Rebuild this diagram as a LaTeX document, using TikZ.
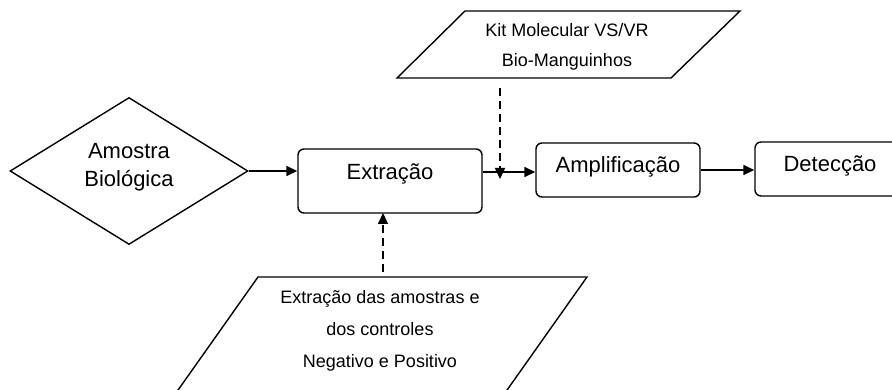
\documentclass[tikz,border=0pt]{standalone}
\usepackage{fontspec}
\setmainfont{Liberation Sans}
\usetikzlibrary{arrows.meta,shapes.geometric}
\begin{document}
\begin{tikzpicture}[x=1pt,y=-1pt,
  shapeline/.style={draw=black,line width=1.4pt},
  procbox/.style={shapeline,rounded corners=6pt,inner sep=0pt},
  bigtxt/.style={font=\fontsize{22}{28}\selectfont,inner sep=0pt,anchor=base,align=center},
  smalltxt/.style={font=\fontsize{18}{30}\selectfont,inner sep=0pt,anchor=base,align=center},
  flow/.style={line width=1.5pt,-{Triangle[length=11pt,width=10pt]}},
  dflow/.style={flow,dash pattern=on 8pt off 5pt}]
\useasboundingbox (0,0) rectangle (892,390);
\clip (0,0) rectangle (892,390);
% diamond
\node[shapeline,diamond,minimum width=238pt,minimum height=147pt,inner sep=0pt] (dia) at (129,171) {};
\node[bigtxt] (diatxt) at (129,187) {Amostra\\Biológica};
% process boxes
\node[procbox,minimum width=184pt,minimum height=64pt] (ext) at (390,181) {};
\node[bigtxt] (exttxt) at (390,180) {Extração};
\node[procbox,minimum width=164pt,minimum height=54pt] (amp) at (618,170) {};
\node[bigtxt] (amptxt) at (618,173) {Amplificação};
\node[procbox,minimum width=160pt,minimum height=54pt] (det) at (835,169) {};
\node[bigtxt] (dettxt) at (830,172) {Detecção};
% kit parallelogram
\coordinate (k1) at (397,78);
\coordinate (k2) at (465,11);
\coordinate (k3) at (740,11);
\coordinate (k4) at (671,78);
\draw[shapeline] (k1) -- (k2) -- (k3) -- (k4) -- cycle;
\node[smalltxt] (kittxt) at (567,67) {Kit Molecular VS/VR\\Bio-Manguinhos};
% bottom parallelogram
\coordinate (b1) at (258,277);
\coordinate (b2) at (587,277);
\coordinate (b3) at (500,400);
\coordinate (b4) at (171,400);
\draw[shapeline] (b4) -- (b1) -- (b2) -- (b3);
\node[font=\fontsize{18}{32}\selectfont,inner sep=0pt,anchor=base,align=center] (bottxt) at (380,367) {Extração das amostras e\\dos controles\\Negativo e Positivo};
% connectors
\coordinate (jn) at (500,172);
\coordinate (kitbot) at (500,88);
\coordinate (bottop) at (383,272);
\coordinate (extbot) at (383,213);
\draw[flow] (dia.east) -- (dia.east -| ext.west);
\draw[flow] (ext.east |- jn) -- (amp.west |- jn);
\draw[flow] (amp.east) -- (det.west |- amp.east);
\draw[dflow] (kitbot) -- ([yshift=-7pt]jn);
\draw[dflow] (bottop) -- (extbot);
\end{tikzpicture}
\end{document}
